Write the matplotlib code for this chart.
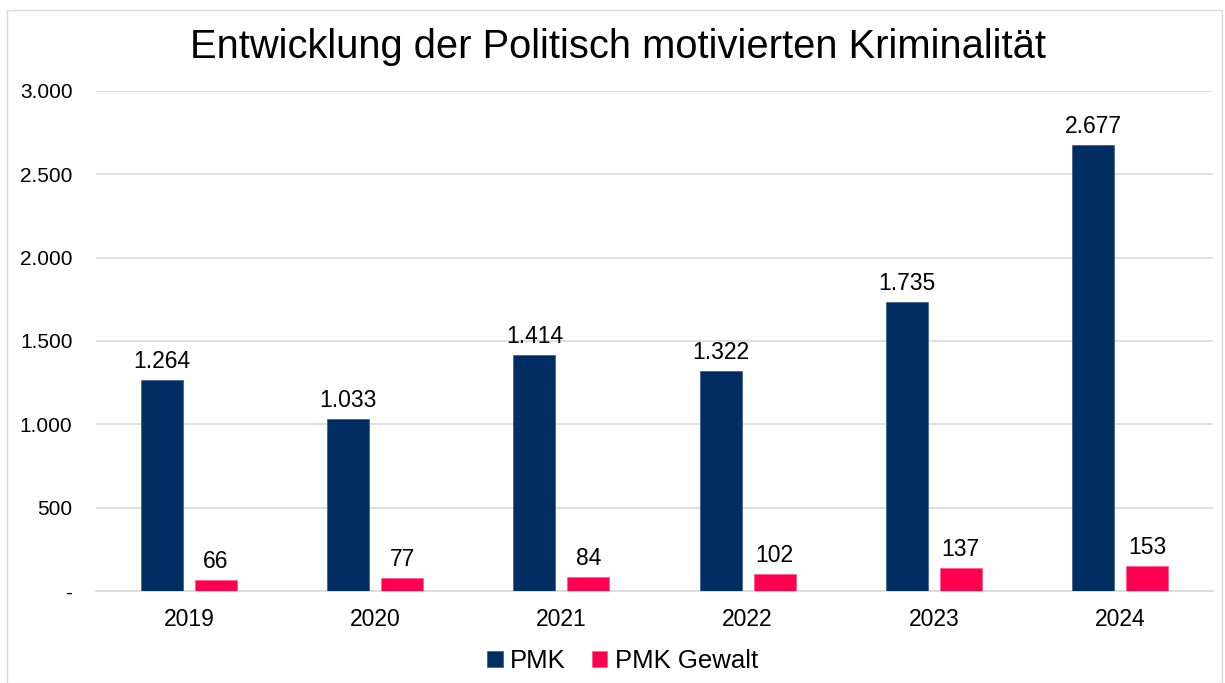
import numpy as np
import matplotlib.pyplot as plt
from matplotlib.patches import Rectangle

plt.rcParams['font.family'] = ['Liberation Sans', 'DejaVu Sans']

years = ['2019', '2020', '2021', '2022', '2023', '2024']
pmk = [1264, 1033, 1414, 1322, 1735, 2677]
pmk_gewalt = [66, 77, 84, 102, 137, 153]
y_ticks = [0, 500, 1000, 1500, 2000, 2500, 3000]
y_tick_labels = ['-', '500', '1.000', '1.500', '2.000', '2.500', '3.000']


def fmt(v):
    return f"{v:,}".replace(',', '.')


fig = plt.figure(figsize=(12.25, 6.83), dpi=100)
ax = fig.add_axes([96 / 1225, 92 / 683, 1117 / 1225, 500 / 683])

x = np.arange(len(years))
w = 0.226
off = 0.145
b1 = ax.bar(x - off, pmk, w, color='#002D62', edgecolor='#3a5a85', linewidth=0.5,
            label='PMK', zorder=3)
b2 = ax.bar(x + off, pmk_gewalt, w, color='#FF0050', edgecolor='#ff5a8a', linewidth=0.5,
            label='PMK Gewalt', zorder=3)

for bars, vals in ((b1, pmk), (b2, pmk_gewalt)):
    for r, v in zip(bars, vals):
        ax.annotate(fmt(v), (r.get_x() + r.get_width() / 2, v), xytext=(0, 5),
                    textcoords='offset points', ha='center', va='bottom', fontsize=16.5)

ax.set_xlim(-0.5, len(years) - 0.5)
ax.set_ylim(0, 3000)
ax.set_xticks(x)
ax.set_xticklabels(years, fontsize=16.5)
ax.set_yticks(y_ticks)
ax.set_yticklabels(y_tick_labels, fontsize=15)
ax.tick_params(axis='both', length=0)
ax.tick_params(axis='y', pad=17)
ax.tick_params(axis='x', pad=12)
ax.grid(axis='y', color='#D9D9D9', linewidth=1.2, zorder=0)
for s in ['top', 'right', 'left']:
    ax.spines[s].set_visible(False)
ax.spines['bottom'].set_color('#D9D9D9')
ax.spines['bottom'].set_linewidth(1.2)

fig.text(0.5 + 6 / 1225, 1 - 47 / 683, 'Entwicklung der Politisch motivierten Kriminalität',
         ha='center', va='center', fontsize=28.7)

fig.legend(loc='center', bbox_to_anchor=(0.5 + 10 / 1225, 1 - 661 / 683), ncol=2, frameon=False,
           fontsize=18.5, handlelength=0.6, handleheight=0.6, handletextpad=0.3,
           columnspacing=1.0)

fig.patches.append(Rectangle((7 / 1225, 0), 1215 / 1225, 1 - 10 / 683, transform=fig.transFigure,
                             fill=False, edgecolor='#D9D9D9', linewidth=1))

fig.savefig('out.png', dpi=100)
